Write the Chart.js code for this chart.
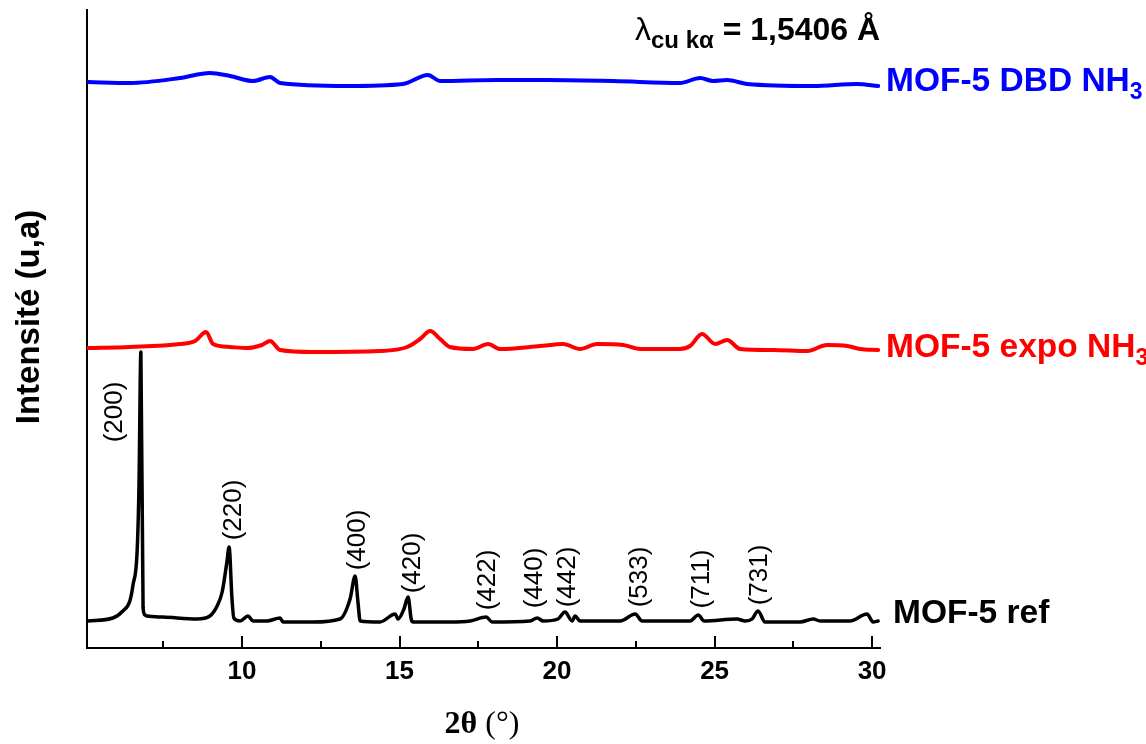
<!DOCTYPE html>
<html>
<head>
<meta charset="utf-8">
<script src="https://cdn.jsdelivr.net/npm/chart.js@4.4.0/dist/chart.umd.min.js"></script>
<style>
  html, body { margin: 0; padding: 0; background: #fff; }
  #wrap { width: 1146px; height: 744px; }
</style>
</head>
<body>
<div id="wrap"><canvas id="graph" width="1146" height="744"></canvas></div>
<script>
// 2theta (deg) / intensity (a.u., stacked offsets)
const refX = [5.11, 5.90, 6.22, 6.44, 6.54, 6.67, 6.73, 6.79, 6.86, 6.92, 6.98, 7.49, 8.57, 8.98,
  9.21, 9.37, 9.52, 9.59, 9.68, 9.74, 9.94, 10.19, 10.35, 10.79, 11.21, 11.30, 12.25, 13.11,
  13.43, 13.59, 13.68, 13.75, 14.38, 14.86, 14.95, 15.14, 15.27, 15.37, 15.43, 16.60, 17.24,
  17.75, 17.94, 19.14, 19.37, 19.56, 20.03, 20.25, 20.48, 20.57, 20.73, 22.00, 22.48, 22.70,
  24.22, 24.48, 24.67, 25.71, 25.97, 26.19, 26.38, 26.60, 27.71, 28.13, 28.35, 29.30, 29.84,
  30.03, 30.19];
const refY = [27, 30, 37, 47, 63, 96, 162, 296, 40, 33, 32, 31, 29, 32,
  42, 56, 86, 101, 50, 30, 27, 32, 27, 27, 30, 26, 26, 29,
  49, 72, 46, 27, 26, 34, 29, 39, 51, 29, 26, 26, 27,
  31, 26, 27, 30, 27, 29, 36, 27, 32, 27, 27, 34, 27,
  27, 33, 27, 29, 27, 29, 37, 26, 26, 29, 27, 27, 34,
  26, 27];

const expoX = [5.11, 6.44, 8.03, 8.51, 8.86, 9.08, 9.62, 10.16, 10.63, 10.89, 11.21, 12.25, 14.38,
  15.24, 15.65, 15.97, 16.29, 16.60, 17.33, 17.81, 18.19, 19.46, 20.19, 20.73, 21.27, 22.10,
  22.63, 23.90, 24.22, 24.60, 25.02, 25.40, 25.81, 26.86, 27.94, 28.57, 29.21, 29.62, 30.19];
const expoY = [300, 301, 304, 307, 316, 304, 301, 300, 303, 307, 298, 296, 297,
  301, 309, 317, 309, 301, 299, 304, 299, 302, 304, 299, 304, 303,
  299, 299, 302, 314, 304, 308, 299, 298, 297, 303, 302, 299, 298];

const dbdX = [5.11, 6.44, 8.03, 8.98, 9.62, 10.35, 10.89, 11.21, 13.33, 15.11, 15.90, 16.29, 18.10,
  19.68, 21.78, 23.90, 24.54, 24.95, 25.40, 26.03, 28.13, 29.52, 30.19];
const dbdY = [566, 565, 570, 575, 572, 567, 571, 565, 562, 564, 573, 567, 568,
  568, 567, 565, 570, 567, 568, 564, 562, 564, 562];

const majorTicks = [10, 15, 20, 25, 30];
const minorTicks = [7.5, 12.5, 17.5, 22.5, 27.5];

const peakLabels = ["(200)", "(220)", "(400)", "(420)", "(422)", "(440)", "(442)", "(533)", "(711)", "(731)"];
const peakLabelX = [5.97, 9.75, 13.68, 15.43, 17.81, 19.30, 20.35, 22.63, 24.60, 26.44];
const peakLabelY = [236, 138, 108, 85, 68, 70, 71, 71, 69, 73];

const toPoints = (xs, ys) => xs.map((x, i) => ({ x: x, y: ys[i] }));

const SANS = "'Liberation Sans', Arial, sans-serif";
const SERIF = "'Liberation Serif', 'Times New Roman', serif";

const decorations = {
  id: "decorations",
  afterDraw(chart) {
    const ctx = chart.ctx;
    const xs = chart.scales.x;
    const ys = chart.scales.y;
    const area = chart.chartArea;

    // inward tick marks
    ctx.save();
    ctx.strokeStyle = "#000";
    ctx.lineWidth = 2;
    majorTicks.forEach((v) => {
      const px = Math.round(xs.getPixelForValue(v));
      ctx.beginPath();
      ctx.moveTo(px, area.bottom);
      ctx.lineTo(px, area.bottom - 12);
      ctx.stroke();
    });
    minorTicks.forEach((v) => {
      const px = Math.round(xs.getPixelForValue(v));
      ctx.beginPath();
      ctx.moveTo(px, area.bottom);
      ctx.lineTo(px, area.bottom - 7);
      ctx.stroke();
    });
    ctx.restore();

    // peak indices
    ctx.save();
    ctx.fillStyle = "#000";
    ctx.font = "26px " + SANS;
    ctx.textAlign = "center";
    ctx.textBaseline = "middle";
    peakLabels.forEach((t, i) => {
      ctx.save();
      ctx.translate(xs.getPixelForValue(peakLabelX[i]), ys.getPixelForValue(peakLabelY[i]));
      ctx.rotate(-Math.PI / 2);
      ctx.fillText(t, 0, 0);
      ctx.restore();
    });
    ctx.restore();

    // series names
    const seriesName = (main, sub, color, x, y) => {
      ctx.save();
      ctx.fillStyle = color;
      ctx.textBaseline = "alphabetic";
      ctx.textAlign = "left";
      ctx.font = "bold 33.5px " + SANS;
      ctx.fillText(main, x, y);
      if (sub) {
        const w = ctx.measureText(main).width;
        ctx.font = "bold 23px " + SANS;
        ctx.fillText(sub, x + w, y + 8);
      }
      ctx.restore();
    };
    seriesName("MOF-5 DBD NH", "3", "#0000ff", 886, 91);
    seriesName("MOF-5 expo NH", "3", "#ff0000", 886, 357);
    seriesName("MOF-5 ref", "", "#000", 893, 623);

    // wavelength
    ctx.save();
    ctx.fillStyle = "#000";
    ctx.textBaseline = "alphabetic";
    let x = 635;
    ctx.font = "32px " + SANS;
    ctx.fillText("λ", x, 40);
    x += ctx.measureText("λ").width;
    ctx.font = "bold 24px " + SANS;
    ctx.fillText("cu kα", x, 48);
    x += ctx.measureText("cu kα").width;
    ctx.font = "bold 32px " + SANS;
    ctx.fillText(" = 1,5406 Å", x, 40);
    ctx.restore();

    // axis titles
    ctx.save();
    ctx.fillStyle = "#000";
    ctx.translate(30, 317);
    ctx.rotate(-Math.PI / 2);
    ctx.textAlign = "center";
    ctx.textBaseline = "middle";
    ctx.font = "bold 33px " + SANS;
    ctx.fillText("Intensité (u,a)", 0, 0);
    ctx.restore();

    ctx.save();
    ctx.fillStyle = "#000";
    ctx.textBaseline = "alphabetic";
    ctx.font = "bold 32px " + SERIF;
    const a = "2θ";
    const wa = ctx.measureText(a).width;
    ctx.font = "32px " + SERIF;
    const b = " (°)";
    const wb = ctx.measureText(b).width;
    const x0 = 482 - (wa + wb) / 2;
    ctx.font = "bold 32px " + SERIF;
    ctx.fillText(a, x0, 733);
    ctx.font = "32px " + SERIF;
    ctx.fillText(b, x0 + wa, 733);
    ctx.restore();
  },
};

const ctx = document.getElementById("graph").getContext("2d");
new Chart(ctx, {
  type: "line",
  data: {
    datasets: [
      {
        label: "MOF-5 ref",
        data: toPoints(refX, refY),
        borderColor: "#000",
        borderWidth: 3.5,
      },
      {
        label: "MOF-5 expo NH3",
        data: toPoints(expoX, expoY),
        borderColor: "#ff0000",
        borderWidth: 4,
      },
      {
        label: "MOF-5 DBD NH3",
        data: toPoints(dbdX, dbdY),
        borderColor: "#0000ff",
        borderWidth: 4,
      },
    ],
  },
  options: {
    responsive: false,
    animation: false,
    events: [],
    layout: { padding: { left: 0, top: 10, right: 266, bottom: 0 } },
    elements: {
      point: { radius: 0 },
      line: { cubicInterpolationMode: "monotone", borderJoinStyle: "round", borderCapStyle: "round" },
    },
    plugins: { legend: { display: false }, tooltip: { enabled: false } },
    scales: {
      x: {
        type: "linear",
        min: 5.08,
        max: 30.25,
        afterBuildTicks: (scale) => {
          scale.ticks = majorTicks.map((v) => ({ value: v }));
        },
        afterFit: (scale) => {
          scale.height = 96;
        },
        grid: { display: false, drawTicks: false },
        border: { display: true, color: "#000", width: 2 },
        ticks: {
          color: "#000",
          padding: 8,
          maxRotation: 0,
          font: { family: SANS, size: 26, weight: "bold" },
        },
      },
      y: {
        min: 0,
        max: 638,
        afterFit: (scale) => {
          scale.width = 87;
        },
        grid: { display: false, drawTicks: false },
        border: { display: true, color: "#000", width: 2 },
        ticks: { display: false },
      },
    },
  },
  plugins: [decorations],
});
</script>
</body>
</html>
